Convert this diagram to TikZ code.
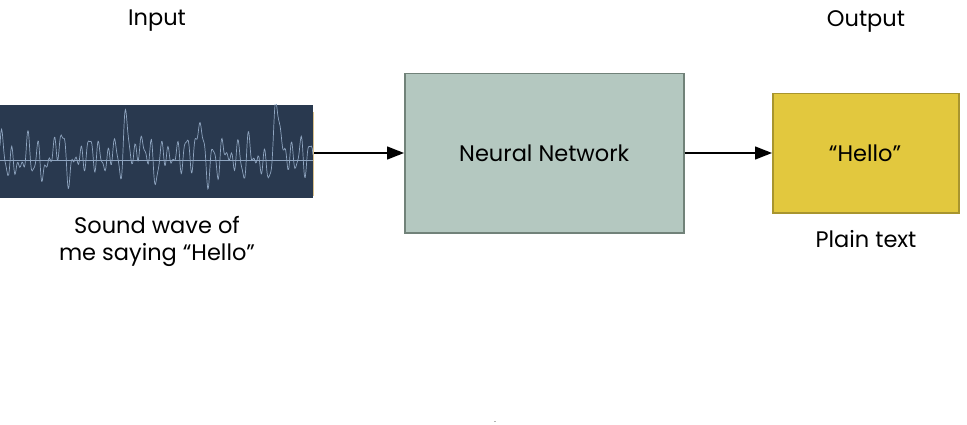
\documentclass[tikz,border=0pt]{standalone}
\usepackage{fontspec}
\setmainfont{Poppins}
\usetikzlibrary{arrows.meta}
\definecolor{wavebg}{HTML}{29394F}
\definecolor{waveln}{HTML}{8FA5C0}
\definecolor{nnfill}{HTML}{B4C8C0}
\definecolor{nndraw}{HTML}{718279}
\definecolor{outfill}{HTML}{E2C83E}
\definecolor{outdraw}{HTML}{A8952E}
\definecolor{tanln}{HTML}{D9C08A}
\tikzset{
  lbl/.style={font=\fontsize{22.5}{28}\selectfont, text=black, align=center, inner sep=0pt},
  boxtxt/.style={font=\fontsize{22.5}{28}\selectfont, text=black},
  flow/.style={-{Triangle[length=17pt,width=13pt]}, line width=1.4pt, black},
  declare function={g(\t,\c,\w)=exp(-min(((\t-\c)/\w)^2,40));}
}
\begin{document}
\begin{tikzpicture}[x=1pt,y=-1pt]
\useasboundingbox (0,0) rectangle (967,425);
% waveform panel
\node[fill=wavebg, draw=none, minimum width=313pt, minimum height=93pt, inner sep=0pt, anchor=north west] (wave) at (0,105) {};
\begin{scope}
\clip (0,105) rectangle (313,198);
\draw[waveln, line width=0.4pt] (0,160) -- (313,160);
\draw[waveln, line width=0.7pt] plot[domain=0:313, samples=400, smooth]
  (\x, {160 - (11*sin(\x*41) + 9*sin(\x*29+40) + 6*sin(67*mod(\x,5.37313)+20) + 7*sin(\x*13+70)
   + 40*g(\x,127,4) + 30*g(\x,200,4) + 52*g(\x,278,3.5)
   + 22*g(\x,60,3) + 20*g(\x,183,4) + 18*g(\x,95,4)
   + 18*g(\x,293,3) + 14*g(\x,145,4) + 12*g(\x,235,4))});
\end{scope}
\draw[tanln, line width=1pt] (313.5,112) -- (313.5,196);
\coordinate (wr) at (314,153);
% neural network
\node[fill=nnfill, draw=nndraw, line width=1.5pt, minimum width=279pt, minimum height=159pt, inner sep=0pt, anchor=north west] (nn) at (404,73) {};
\node[boxtxt] (nnt) at (nn.center) {Neural Network};
% output
\node[fill=outfill, draw=outdraw, line width=1.5pt, minimum width=186pt, minimum height=119pt, inner sep=0pt, anchor=north west] (out) at (772,93) {};
\node[boxtxt] (outt) at (865,153) {“Hello”};
% arrows
\draw[flow] (wr) -- (nn.west |- wr);
\draw[flow] (nn.east |- wr) -- (out.west |- wr);
% labels
\node[lbl] (in) at (157,21) {Input};
\node[lbl] (op) at (866,21) {Output};
\node[lbl] (sw1) at (157,225) {Sound wave of};
\node[lbl] (sw2) at (157,255) {me saying “Hello”};
\node[lbl] (pt) at (866,239) {Plain text};
\node[fill=gray!60, inner sep=0pt, minimum width=2pt, minimum height=1pt] (dot) at (495,421) {};
\end{tikzpicture}
\end{document}
